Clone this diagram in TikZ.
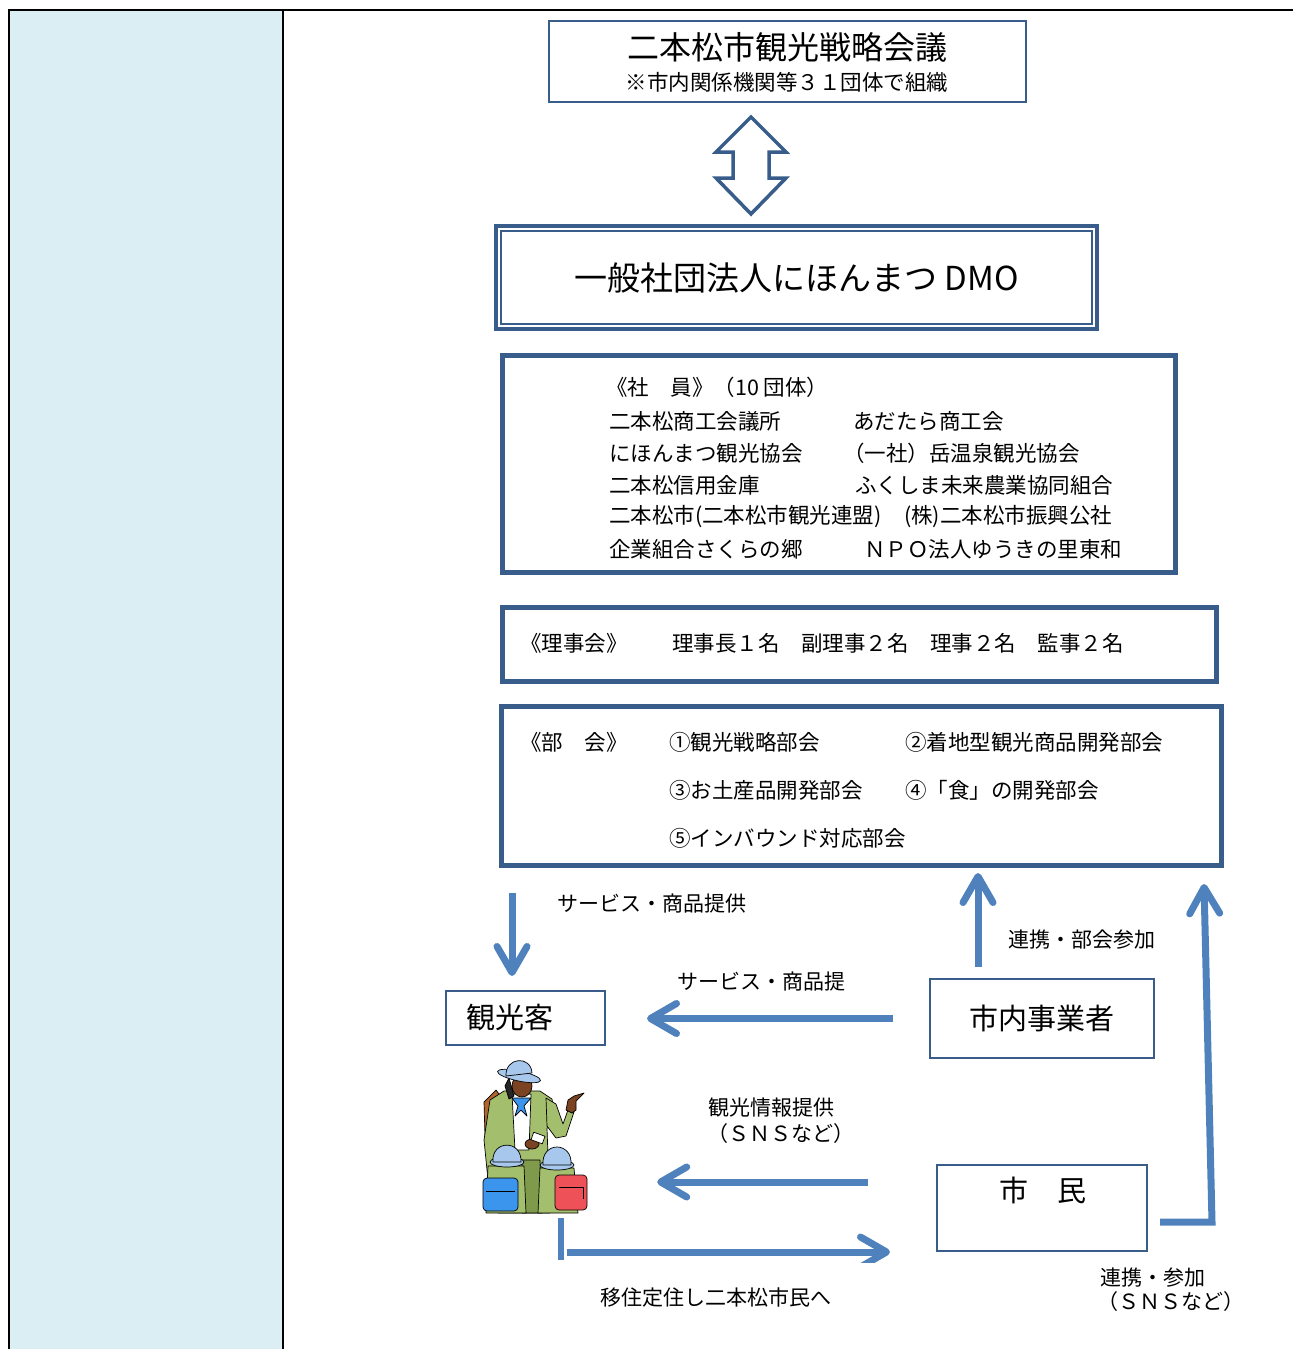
\documentclass[tikz,border=0pt]{standalone}
\usepackage{fontspec}
\newfontfamily\jpfont{Noto Sans CJK JP}
\usetikzlibrary{arrows.meta, positioning}

\definecolor{frameblue}{HTML}{385D8A}
\definecolor{flowblue}{HTML}{4F81BD}
\definecolor{sidecell}{HTML}{DAEEF3}
\definecolor{coat}{HTML}{A3BE6C}
\definecolor{coatdark}{HTML}{7E9A4A}
\definecolor{hatblue}{HTML}{A7C7EC}
\definecolor{skin}{HTML}{7B4322}
\definecolor{bagblue}{HTML}{3C95EC}
\definecolor{bagred}{HTML}{EE5258}
\definecolor{bagbrown}{HTML}{B4652E}

\newcommand{\fs}[1]{\jpfont\fontsize{#1}{#1}\selectfont}

\begin{document}
\begin{tikzpicture}[
    x=1pt, y=-1pt,
    panel/.style={draw=frameblue, line width=5pt, fill=white, inner sep=0pt},
    smallbox/.style={draw=frameblue, line width=2pt, fill=white, inner sep=0pt},
    memtext/.style={anchor=west, inner sep=0pt, font=\fs{21.5}},
    note/.style={anchor=west, inner sep=0pt, font=\fs{21}},
    actor/.style={inner sep=0pt, font=\fs{29}},
    flow/.style={draw=flowblue, line width=7pt, -{Straight Barb[length=26pt, width=30pt, round]}},
    flowbar/.style={draw=flowblue, line width=7pt},
    outline/.style={draw=black, line width=0.7pt, line join=round},
  ]
  \useasboundingbox (0,0) rectangle (1293,1349);

  % table: shaded side column
  \fill[sidecell] (9,10) rectangle (283,1349);
  \draw[line width=2pt] (1293,10) -- (9,10) -- (9,1349);
  \draw[line width=2pt] (283,10) -- (283,1349);

  % council
  \node[smallbox, minimum width=477pt, minimum height=81pt] (council) at (787.5,61.5) {};
  \node[inner sep=0pt, font=\fs{32}] (councilTitle) at (787,47) {二本松市観光戦略会議};
  \node[inner sep=0pt, font=\fs{21.5}] (councilNote) at (787,82) {※市内関係機関等３１団体で組織};

  % two-way link
  \filldraw[draw=frameblue, fill=white, line width=3.5pt, line join=miter]
    (751,117) -- (786,152) -- (769,152) -- (769,178) -- (786,178) -- (751,214)
    -- (716,178) -- (733,178) -- (733,152) -- (716,152) -- cycle;

  % DMO
  \node[panel, line width=4pt, minimum width=601pt, minimum height=103pt, font=\fs{33}] (dmo) at (796.5,277.5) {一般社団法人にほんまつ DMO};
  \draw[frameblue, line width=1.2pt] ([shift={(7,7)}]dmo.north west) rectangle ([shift={(-7,-7)}]dmo.south east);

  % members
  \node[panel, minimum width=673pt, minimum height=217pt] (members) at (839,464) {};
  \node[memtext] (memHead) at (606,387) {《社　員》（10 団体）};
  \foreach \n/\y/\lt/\rx/\rt in {
      1/421/二本松商工会議所/853/あだたら商工会,
      2/453/にほんまつ観光協会/843/（一社）岳温泉観光協会,
      3/485/二本松信用金庫/855/ふくしま未来農業協同組合,
      4/517/二本松市(二本松市観光連盟)/904/(株)二本松市振興公社,
      5/549/企業組合さくらの郷/864/ＮＰＯ法人ゆうきの里東和} {
    \node[memtext] (memL\n) at (609,\y) {\lt};
    \node[memtext] (memR\n) at (\rx,\y) {\rt};
  }

  % board
  \node[panel, minimum width=714pt, minimum height=74pt] (board) at (859.5,644.5) {};
  \node[memtext] (boardHead) at (520,643) {《理事会》};
  \node[memtext] (boardList) at (672,643) {理事長１名　副理事２名　理事２名　監事２名};

  % working groups
  \node[panel, minimum width=720pt, minimum height=159pt] (bukai) at (861.5,786) {};
  \node[memtext] (bukaiHead) at (520,742) {《部　会》};
  \node[memtext] (wg1) at (669,742) {①観光戦略部会};
  \node[memtext] (wg2) at (905,742) {②着地型観光商品開発部会};
  \node[memtext] (wg3) at (669,790) {③お土産品開発部会};
  \node[memtext] (wg4) at (905,790) {④「食」の開発部会};
  \node[memtext] (wg5) at (669,838) {⑤インバウンド対応部会};

  % actors
  \node[smallbox, minimum width=159pt, minimum height=54pt] (kankoukyaku) at (525.5,1018) {};
  \node[actor, anchor=west] (kankoukyakuText) at (466,1017) {観光客};
  \node[smallbox, minimum width=224pt, minimum height=79pt, font=\fs{29}] (jigyosha) at (1042,1018.5) {市内事業者};
  \node[smallbox, minimum width=210pt, minimum height=86pt] (shimin) at (1042,1208) {};
  \node[actor] (shiminText) at (1043,1190) {市　民};

  % tourists (guide with two children)
  \node[inner sep=0pt, minimum width=110pt, minimum height=155pt] (tourists) at (533,1136) {};
  \begin{scope}[outline]
    % backpack behind the guide
    \filldraw[fill=bagbrown] (484,1102) -- (496,1090) -- (502,1098) -- (500,1134) -- (485,1136) -- cycle;
    % coat
    \filldraw[fill=coat] (490,1100) -- (504,1091) -- (540,1091) -- (552,1099) -- (556,1124)
      -- (547,1128) -- (550,1213) -- (498,1213) -- (488,1180) -- (484,1140) -- cycle;
    \filldraw[fill=coatdark] (522,1160) -- (540,1160) -- (542,1213) -- (522,1213) -- cycle;
    % shirt and scarf
    \filldraw[fill=white] (512,1094) -- (531,1094) -- (529,1150) -- (515,1150) -- cycle;
    \filldraw[fill=bagblue] (512,1098) -- (531,1098) -- (524,1106) -- (527,1116) -- (521,1110)
      -- (515,1116) -- (518,1106) -- cycle;
    % pointing arm
    \filldraw[fill=coat] (546,1098) -- (556,1104) -- (563,1124) -- (568,1110) -- (574,1112)
      -- (566,1136) -- (556,1138) -- (547,1126) -- cycle;
    \filldraw[fill=skin] (566,1110) -- (568,1100) -- (574,1096) -- (584,1093) -- (576,1101)
      -- (576,1110) -- (572,1113) -- cycle;
    % hair, face, hat
    \filldraw[fill=black!85] (509,1078) -- (514,1096) -- (509,1099) -- (505,1086) -- cycle;
    \filldraw[fill=skin] (522,1086) ellipse [x radius=10, y radius=11];
    \filldraw[fill=hatblue, rotate around={-12:(519,1076)}] (519,1076) ellipse [x radius=22, y radius=5];
    \filldraw[fill=hatblue] (506,1076) .. controls (505,1057) and (531,1055) .. (532,1073) -- cycle;
    % phone
    \filldraw[fill=skin] (532,1144) ellipse [x radius=7, y radius=5];
    \filldraw[fill=white, rotate around={-20:(538,1138)}] (532,1134) rectangle (544,1142);
    % child with blue backpack
    \filldraw[fill=coat] (488,1166) -- (524,1166) -- (526,1213) -- (486,1213) -- cycle;
    \filldraw[fill=hatblue] (507,1162) ellipse [x radius=17, y radius=5];
    \filldraw[fill=hatblue] (493,1162) .. controls (491,1140) and (522,1139) .. (521,1162) -- cycle;
    \filldraw[fill=bagblue, rounded corners=4pt] (483,1178) rectangle (518,1211);
    \draw (486,1191) -- (515,1191);
    % child with red backpack
    \filldraw[fill=coat] (540,1168) -- (574,1168) -- (578,1213) -- (538,1213) -- cycle;
    \filldraw[fill=hatblue] (557,1165) ellipse [x radius=17, y radius=5];
    \filldraw[fill=hatblue] (543,1165) .. controls (541,1141) and (573,1141) .. (571,1165) -- cycle;
    \filldraw[fill=bagred, rounded corners=4pt] (555,1175) rectangle (587,1210);
    \draw (559,1187) -- (583,1187) -- (583,1199);
  \end{scope}

  % flows
  \coordinate (svcTop) at (512,893);
  \draw[flow, shorten >=14pt] (svcTop) -- (svcTop |- kankoukyaku.north);
  \node[note] (svcNote) at (557,904) {サービス・商品提供};

  \coordinate (joinBase) at (978,967);
  \draw[flow, shorten >=5pt] (joinBase) -- (joinBase |- bukai.south);
  \node[note] (joinNote) at (1008,940) {連携・部会参加};

  \draw[flow, shorten <=36pt, shorten >=41pt] (jigyosha.west) -- (jigyosha.west -| kankoukyaku.east);
  \node[note] (svcNoteB) at (677,982) {サービス・商品提};

  \coordinate (infoStart) at ([shift={(-68,-26)}]shimin.west);
  \draw[flow, shorten >=69pt] (infoStart) -- (infoStart -| tourists.east);
  \node[note] (infoNote) at (708,1108) {観光情報提供};
  \node[note] (infoNoteB) at (707,1134) {（ＳＮＳなど）};

  \coordinate (moveTop) at (561,1218);
  \draw[flowbar, line width=6pt] (moveTop) -- ++(0,42);
  \coordinate (moveStart) at (567,1252);
  \begin{scope}
    \clip (0,0) rectangle (1293,1262);
    \draw[flow, shorten >=46pt] (moveStart) -- (moveStart -| shimin.west);
  \end{scope}
  \node[note] (moveNote) at (600,1298) {移住定住し二本松市民へ};

  \coordinate (citTurn) at (1212,1222);
  \coordinate (citTop) at (1204,884);
  \draw[flow, line join=miter] ([shift={(12,14)}]shimin.east) -- (citTurn) -- (citTop);
  \node[note] (citNote) at (1100,1278) {連携・参加};
  \begin{scope}
    \clip (0,0) rectangle (1293,1312);
    \node[note] (citNoteB) at (1097,1302) {（ＳＮＳなど）};
  \end{scope}
\end{tikzpicture}
\end{document}
